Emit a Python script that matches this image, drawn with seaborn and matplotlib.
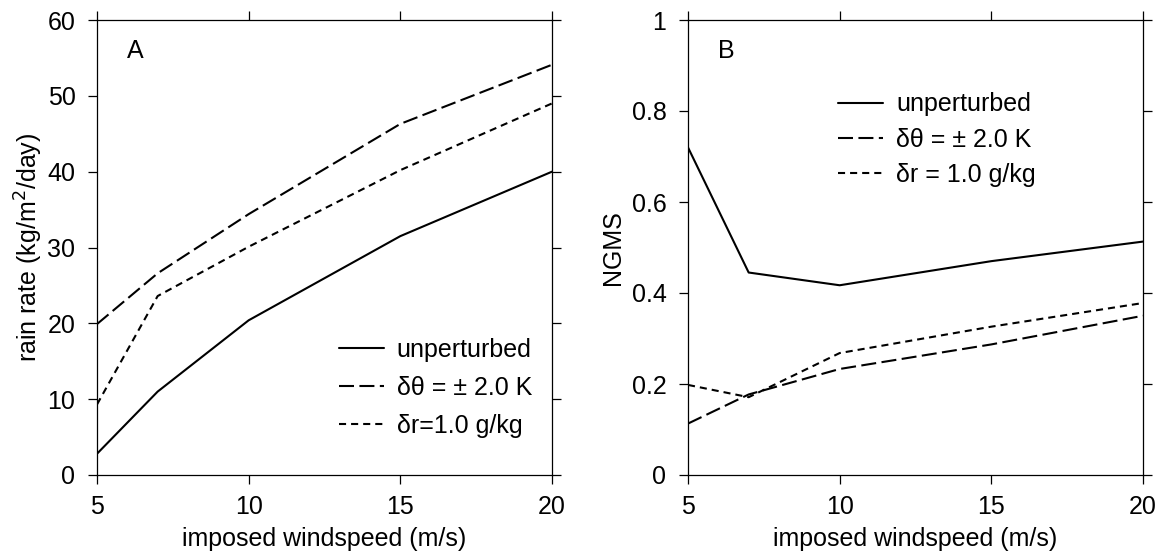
import numpy as np
import pandas as pd
import matplotlib
matplotlib.use("Agg")
import matplotlib.pyplot as plt
import seaborn as sns

windspeed = [5, 7, 10, 15, 20]
series_names = ["unperturbed", "dtheta", "dr"]

rain_unperturbed = [2.8, 11.0, 20.4, 31.5, 40.0]
rain_dtheta = [19.9, 26.6, 34.4, 46.3, 54.1]
rain_dr = [9.3, 23.6, 30.1, 40.2, 49.0]

ngms_unperturbed = [0.720, 0.445, 0.417, 0.470, 0.513]
ngms_dtheta = [0.113, 0.177, 0.233, 0.287, 0.350]
ngms_dr = [0.198, 0.171, 0.268, 0.326, 0.378]

labels_A = ["unperturbed", "δθ = ± 2.0 K", "δr=1.0 g/kg"]
labels_B = ["unperturbed", "δθ = ± 2.0 K", "δr = 1.0 g/kg"]

xticks = [5, 10, 15, 20]
yticks_A = [0, 10, 20, 30, 40, 50, 60]
yticks_B = [0, 0.2, 0.4, 0.6, 0.8, 1]
yticklabels_B = ["0", "0.2", "0.4", "0.6", "0.8", "1"]

sns.set_theme(style="ticks")
plt.rcParams["font.family"] = ["Liberation Sans", "DejaVu Sans"]
plt.rcParams["font.size"] = 18
plt.rcParams["text.color"] = "black"
plt.rcParams["axes.labelcolor"] = "black"
plt.rcParams["xtick.color"] = "black"
plt.rcParams["ytick.color"] = "black"
plt.rcParams["xtick.labelcolor"] = "black"
plt.rcParams["ytick.labelcolor"] = "black"
plt.rcParams["legend.labelcolor"] = "black"

FS = 18


def long_df(vals, labels):
    rows = []
    for name, lab, v in zip(series_names, labels, vals):
        for x, y in zip(windspeed, v):
            rows.append({"x": x, "y": y, "series": lab})
    return pd.DataFrame(rows)


dashes_pat = [(), (7.2, 2.6), (3.4, 2.4)]

W, H = 1163, 554
fig = plt.figure(figsize=(W / 100, H / 100), dpi=100)
axA = fig.add_axes([97 / W, 1 - 475 / H, 455 / W, 455 / H])
axB = fig.add_axes([688 / W, 1 - 475 / H, 455 / W, 455 / H])

configs = [
    (axA, [rain_unperturbed, rain_dtheta, rain_dr], labels_A, yticks_A,
     [str(v) for v in yticks_A], (0, 60), "rain rate (kg/m$^2$/day)", "A",
     (0.531, 0.192), 0.56, 2),
    (axB, [ngms_unperturbed, ngms_dtheta, ngms_dr], labels_B, yticks_B,
     yticklabels_B, (0, 1), "NGMS", "B", (0.330, 0.737), 0.45, 5),
]

for ax, vals, labels, yt, ytl, ylim, ylabel, letter, leg_anchor, lspace, ylpad in configs:
    df = long_df(vals, labels)
    sns.lineplot(data=df, x="x", y="y", style="series", style_order=labels,
                 dashes=dict(zip(labels, dashes_pat)), color="black",
                 linewidth=1.5, ax=ax, legend=True)
    ax.set_xlim(5, 20)
    ax.set_ylim(*ylim)
    ax.set_xticks(xticks)
    ax.set_xticklabels([str(v) for v in xticks], fontsize=FS, color="black")
    ax.set_yticks(yt)
    ax.set_yticklabels(ytl, fontsize=FS, color="black")
    ax.set_xlabel("imposed windspeed (m/s)", fontsize=FS, labelpad=6, color="black")
    ax.set_ylabel(ylabel, fontsize=FS, labelpad=ylpad, color="black")
    ax.tick_params(direction="out", length=6.5, width=0.9, top=True, right=True,
                   colors="black")
    ax.tick_params(axis="x", pad=8)
    ax.tick_params(axis="y", pad=9)
    for s in ax.spines.values():
        s.set_linewidth(0.9)
        s.set_color("black")
    ax.text(0.084, 0.931, letter, transform=ax.transAxes, fontsize=FS,
            ha="center", va="center", color="black")
    handles, labs = ax.get_legend_handles_labels()
    leg = ax.legend(handles, labs, loc="center left", bbox_to_anchor=leg_anchor,
                    frameon=False, fontsize=FS, borderpad=0, borderaxespad=0,
                    handlelength=1.8, handletextpad=0.52, labelspacing=lspace)
    for t in leg.get_texts():
        t.set_color("black")

fig.savefig("out.png", dpi=100)
